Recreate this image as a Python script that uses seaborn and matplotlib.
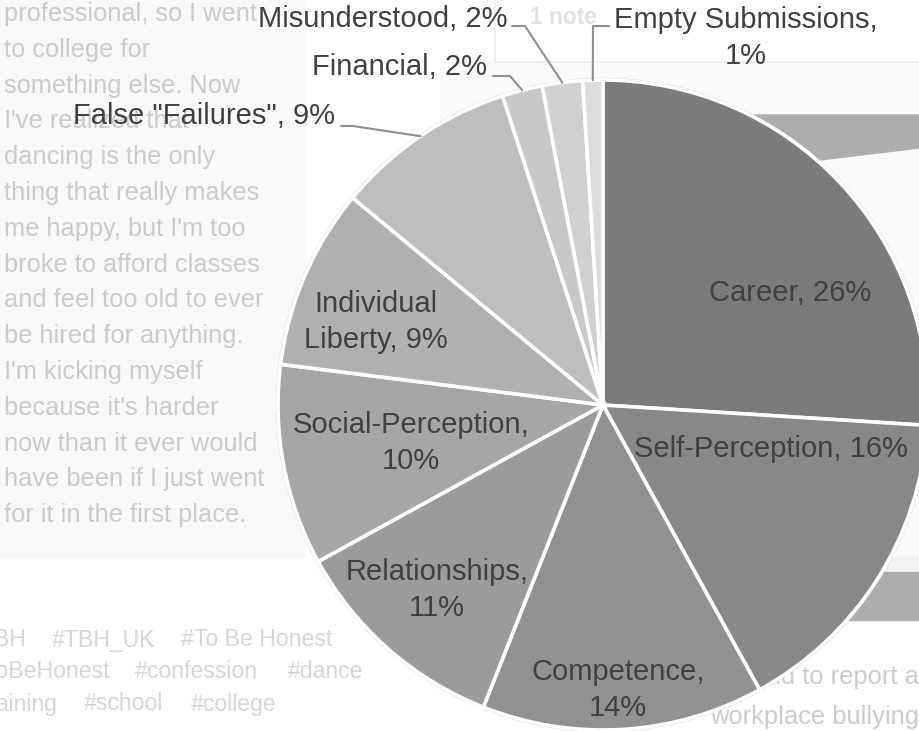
import matplotlib

matplotlib.use("Agg")
import matplotlib.pyplot as plt
import numpy as np
import seaborn as sns
from matplotlib.patches import Circle, Polygon, Rectangle

# pie data (clockwise from 12 o'clock)
categories = [
    "Career", "Self-Perception", "Competence", "Relationships", "Social-Perception",
    "Individual Liberty", 'False "Failures"', "Financial", "Misunderstood", "Empty Submissions",
]
shares = [26, 16, 14, 11, 10, 9, 9, 2, 2, 1]
grays = ["#7b7b7b", "#888888", "#919191", "#9b9b9b", "#a6a6a6",
         "#b0b0b0", "#bebebe", "#c8c8c8", "#d0d0d0", "#dcdcdc"]

# how each label is broken into lines
label_text = [
    "Career, 26%", "Self-Perception, 16%", "Competence,\n14%", "Relationships,\n11%",
    "Social-Perception,\n10%", "Individual\nLiberty, 9%", 'False "Failures", 9%',
    "Financial, 2%", "Misunderstood, 2%", "Empty Submissions,\n1%",
]

# faded page behind the chart (it is a screenshot)
post_lines = [
    "professional, so I went", "to college for", "something else. Now",
    "I've realized that", "dancing is the only", "thing that really makes",
    "me happy, but I'm too", "broke to afford classes", "and feel too old to ever",
    "be hired for anything.", "I'm kicking myself", "because it's harder",
    "now than it ever would", "have been if I just went", "for it in the first place.",
]
tag_rows = [
    [("#TBH", 27, "right"), ("#TBH_UK", 52, "left"), ("#To Be Honest", 181, "left")],
    [("#ToBeHonest", 110, "right"), ("#confession", 135, "left"), ("#dance", 288, "left")],
    [("#training", 58, "right"), ("#school", 84, "left"), ("#college", 191, "left")],
]

W, H = 919, 731
CX, CY, R = 603, 405, 325


def fy(y):
    # screen y (from top) -> data y
    return H - y


sns.set_theme(style="white")
plt.rcParams["font.family"] = ["Liberation Sans", "DejaVu Sans"]

fig = plt.figure(figsize=(W / 100, H / 100), dpi=100)
ax = fig.add_axes([0, 0, 1, 1])

# ---- background screenshot bits ----
ax.add_patch(Rectangle((0, fy(557)), 305, 557, color="#f9f9f9", zorder=0))
ax.add_patch(Rectangle((440, fy(572)), 480, 510, color="#fafafa", zorder=0))
ax.add_patch(Rectangle((495, fy(62)), 440, 80, facecolor="white", edgecolor="#ececec", lw=1.2, zorder=0.5))
ax.add_patch(Polygon([(600, fy(115)), (919, fy(115)), (919, fy(148)), (820, fy(160)), (600, fy(162))],
                     closed=True, color="#adadad", zorder=0.6))
ax.add_patch(Rectangle((700, fy(572)), 220, 15, color="#f2f2f2", zorder=0.6))
ax.add_patch(Rectangle((700, fy(620)), 220, 48, color="#adadad", zorder=0.6))

for i, line in enumerate(post_lines):
    ax.text(4, fy(14 + i * 35.8), line, fontsize=18.3, color="#cbcbcb", va="center", ha="left", zorder=1)
for i, row in enumerate(tag_rows):
    for tag, x, align in row:
        ax.text(x, fy(640 + i * 32), tag, fontsize=16.6, color="#d6d6d6", va="center", ha=align, zorder=1)
ax.text(530, fy(18), "1 note", fontsize=16.4, fontweight="bold", color="#e2e2e2", va="center", zorder=1)
ax.text(919, fy(677), "afraid to report a", fontsize=18.4, color="#cbcbcb", va="center", ha="right", zorder=1)
ax.text(710, fy(717), "workplace bullying", fontsize=18.4, color="#cbcbcb", va="center", ha="left", zorder=1)

# ---- the pie ----
ax.add_patch(Circle((CX, fy(CY)), R + 1.6, fill=False, edgecolor="#cfcfcf", lw=0.7, zorder=1.5))
wedges, _ = ax.pie(
    shares,
    colors=grays,
    startangle=90,
    counterclock=False,
    center=(CX, fy(CY)),
    radius=R,
    frame=True,
    wedgeprops=dict(edgecolor="white", linewidth=2.6, zorder=2),
)

label_kw = dict(fontsize=21, color="#404040", zorder=4, linespacing=1.32)

# labels inside the big slices (screen positions of each text block centre)
inside_pos = [(790, 293), (771, 449), (618, 690), (437, 590), (411, 443), (376, 322)]
for k, (x, y) in enumerate(inside_pos):
    ax.text(x, fy(y), label_text[k], ha="center", va="center", multialignment="center", **label_kw)

# small slices get a leader line from the middle of the arc
outside = [
    # (index, text anchor, ha, elbow, line end near text)
    (6, (335, 116), "right", (353, 126), (341, 126)),
    (7, (487, 67), "right", (510, 76), (493, 76)),
    (8, (508, 19), "right", (525, 26), (512, 26)),
    (9, (614, 38), "left", (593, 26), (609, 26)),
]
for k, (tx, ty), align, elbow, end in outside:
    w = wedges[k]
    mid = np.deg2rad((w.theta1 + w.theta2) / 2)
    sx = CX + R * np.cos(mid)
    sy = fy(CY) + R * np.sin(mid)
    ax.plot([sx, elbow[0], end[0]], [sy, fy(elbow[1]), fy(end[1])], color="#8f8f8f", lw=1.5, zorder=3)
    ax.text(tx, fy(ty), label_text[k], ha=align, va="center", multialignment="center", **label_kw)

ax.set_xlim(0, W)
ax.set_ylim(0, H)
ax.axis("off")

fig.savefig("out.png", dpi=100, facecolor="white")
plt.close(fig)
